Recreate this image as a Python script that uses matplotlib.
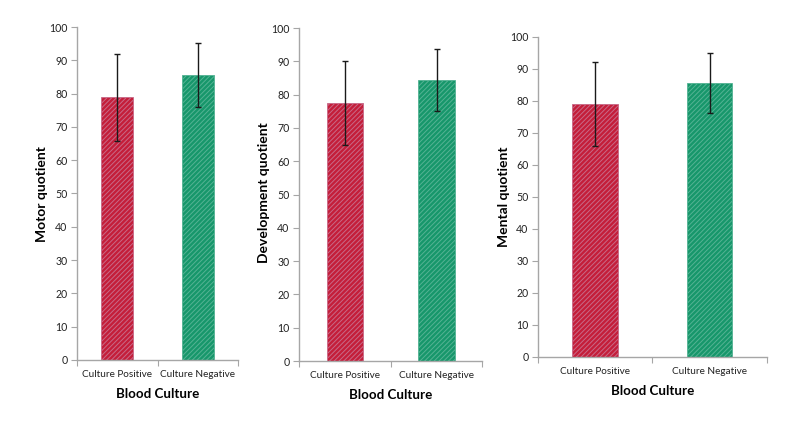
import matplotlib
matplotlib.use("Agg")
import matplotlib.pyplot as plt

categories = ["Culture Positive", "Culture Negative"]
ylabels = ["Motor quotient", "Development quotient", "Mental quotient"]
xlabel = "Blood Culture"

motor_means = [78.9, 85.6]
motor_err = [13.1, 9.5]
dev_means = [77.5, 84.5]
dev_err = [12.5, 9.3]
mental_means = [78.9, 85.6]
mental_err = [13.1, 9.4]

bar_faces = ["#c41e3a", "#17976b"]
bar_hatch = ["#c86a88", "#55b394"]

plt.rcParams['font.family'] = ['Lato', 'DejaVu Sans']
plt.rcParams['hatch.linewidth'] = 0.7

W, H = 800, 428
fig = plt.figure(figsize=(W / 100, H / 100), dpi=100)
rects = [
    [0.0963, 0.1589, 0.2013, 0.778],
    [0.374, 0.1565, 0.229, 0.778],
    [0.6725, 0.166, 0.286, 0.748],
]
ylabel_px = [(42, 194), (264, 193), (504, 197)]
data = [(motor_means, motor_err), (dev_means, dev_err), (mental_means, mental_err)]

axis_grey = "#a6a6a6"
for rect, (means, errs), ylab, (lx, ly) in zip(rects, data, ylabels, ylabel_px):
    ax = fig.add_axes(rect)
    xs = list(range(len(categories)))
    for i in xs:
        ax.bar(i, means[i], width=0.4, color=bar_faces[i], edgecolor=bar_hatch[i],
               hatch="///////", linewidth=0.6, zorder=2)
    ax.errorbar(xs, means, yerr=errs, fmt="none", ecolor="#1a1a1a",
                elinewidth=1.0, capsize=2.5, capthick=1.0, zorder=3)
    ax.set_xlim(-0.5, 1.5)
    ax.set_ylim(0, 100)
    ax.set_yticks(range(0, 101, 10))
    ax.set_xticks([-0.5, 0.5, 1.5])
    ax.set_xticklabels([])
    ax.tick_params(axis='x', which='major', length=4, color=axis_grey, direction='out')
    ax.set_xticks(xs, minor=True)
    ax.set_xticklabels(categories, minor=True, fontsize=7.2, color="#222222")
    ax.tick_params(axis='x', which='minor', length=0, pad=7)
    ax.tick_params(axis='y', length=4, color=axis_grey, labelsize=7.6,
                   labelcolor="#222222", pad=3)
    for s in ["top", "right"]:
        ax.spines[s].set_visible(False)
    for s in ["left", "bottom"]:
        ax.spines[s].set_color(axis_grey)
        ax.spines[s].set_linewidth(1.0)
    ax.set_xlabel(xlabel, fontsize=9.6, fontweight='bold', labelpad=7)
    fig.text(lx / W, 1 - ly / H, ylab, rotation=90, ha='center', va='center',
             fontsize=10, fontweight='bold')

fig.savefig("out.png", dpi=100, facecolor="white")
